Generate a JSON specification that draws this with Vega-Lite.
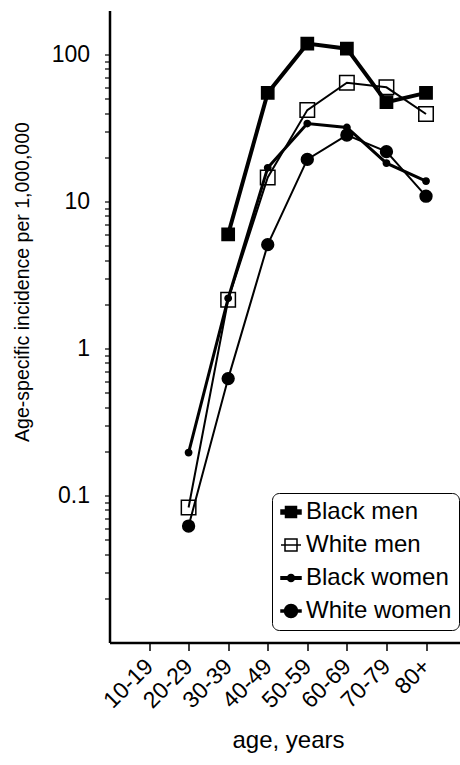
{
  "$schema": "https://vega.github.io/schema/vega-lite/v6.json",
  "autosize": {"type": "none"},
  "padding": {"left": 109.5, "top": 10.5, "right": 0, "bottom": 122},
  "width": 351,
  "height": 632,
  "background": "white",
  "config": {
    "view": {"stroke": null},
    "font": "Liberation Sans",
    "axis": {"domainColor": "black", "tickColor": "black", "labelColor": "black", "titleColor": "black", "grid": false, "titleFontWeight": "normal"}
  },
  "data": {
    "values": [
      {"age": "30-39", "series": "Black men", "rate": 6.0},
      {"age": "40-49", "series": "Black men", "rate": 55},
      {"age": "50-59", "series": "Black men", "rate": 119},
      {"age": "60-69", "series": "Black men", "rate": 110},
      {"age": "70-79", "series": "Black men", "rate": 47.5},
      {"age": "80+", "series": "Black men", "rate": 55},
      {"age": "20-29", "series": "White men", "rate": 0.083},
      {"age": "30-39", "series": "White men", "rate": 2.15},
      {"age": "40-49", "series": "White men", "rate": 14.6},
      {"age": "50-59", "series": "White men", "rate": 42},
      {"age": "60-69", "series": "White men", "rate": 64.5},
      {"age": "70-79", "series": "White men", "rate": 60},
      {"age": "80+", "series": "White men", "rate": 39.5},
      {"age": "20-29", "series": "Black women", "rate": 0.196},
      {"age": "30-39", "series": "Black women", "rate": 2.2},
      {"age": "40-49", "series": "Black women", "rate": 17},
      {"age": "50-59", "series": "Black women", "rate": 34},
      {"age": "60-69", "series": "Black women", "rate": 32},
      {"age": "70-79", "series": "Black women", "rate": 18.3},
      {"age": "80+", "series": "Black women", "rate": 13.8},
      {"age": "20-29", "series": "White women", "rate": 0.062},
      {"age": "30-39", "series": "White women", "rate": 0.625},
      {"age": "40-49", "series": "White women", "rate": 5.1},
      {"age": "50-59", "series": "White women", "rate": 19.4},
      {"age": "60-69", "series": "White women", "rate": 28.4},
      {"age": "70-79", "series": "White women", "rate": 21.9},
      {"age": "80+", "series": "White women", "rate": 10.9}
    ]
  },
  "encoding": {
    "x": {
      "field": "age", "type": "ordinal",
      "scale": {"type": "point", "domain": ["10-19", "20-29", "30-39", "40-49", "50-59", "60-69", "70-79", "80+"], "padding": 0.935, "align": 0.534},
      "axis": {
        "title": "age, years", "titleFontSize": 24, "titleX": 178.5, "titleY": 98, "titleBaseline": "middle", "titleAlign": "center",
        "labelAngle": -45, "labelFontSize": 23, "labelPadding": 12, "labelBaseline": "middle", "labelAlign": "right",
        "domainWidth": 2.5, "tickSize": 8, "tickWidth": 1.5
      }
    },
    "y": {
      "field": "rate", "type": "quantitative",
      "scale": {"type": "log", "domain": [0.01, 200], "nice": false, "zero": false},
      "axis": {
        "title": "Age-specific incidence per 1,000,000", "titleFontSize": 19.5, "titleX": -87, "titleY": 271, "titleAngle": -90, "titleBaseline": "middle", "titleAlign": "center",
        "values": [0.02, 0.03, 0.04, 0.05, 0.06, 0.07, 0.08, 0.09, 0.1, 0.2, 0.3, 0.4, 0.5, 0.6, 0.7, 0.8, 0.9, 1, 2, 3, 4, 5, 6, 7, 8, 9, 10, 20, 30, 40, 50, 60, 70, 80, 90, 100],
        "labelExpr": "datum.value == 0.1 || datum.value == 1 || datum.value == 10 || datum.value == 100 ? datum.label : ''",
        "format": "~g",
        "labelFontSize": 23, "labelPadding": 15,
        "domainWidth": 2.5, "tickSize": 5, "tickWidth": 1.2
      }
    }
  },
  "resolve": {"scale": {"shape": "independent", "fill": "independent", "size": "independent", "strokeWidth": "independent", "stroke": "independent"}},
  "layer": [
    {
      "mark": {"type": "line", "color": "black"},
      "encoding": {
        "strokeWidth": {
          "field": "series", "type": "ordinal",
          "scale": {"type": "ordinal", "domain": ["White women", "Black women", "White men", "Black men"], "range": [2, 3, 2, 4]},
          "legend": null
        }
      }
    },
    {
      "mark": {"type": "point", "filled": true, "stroke": "black", "strokeWidth": 1.5, "opacity": 1},
      "encoding": {
        "shape": {
          "field": "series", "type": "ordinal",
          "scale": {"domain": ["White women", "Black women", "White men", "Black men"], "range": ["circle", "circle", "square", "square"]},
          "legend": null
        },
        "size": {
          "field": "series", "type": "ordinal",
          "scale": {"type": "ordinal", "domain": ["White women", "Black women", "White men", "Black men"], "range": [140, 40, 210, 150]},
          "legend": null
        },
        "fill": {
          "field": "series", "type": "ordinal",
          "scale": {"domain": ["White women", "Black women", "White men", "Black men"], "range": ["black", "black", "transparent", "black"]},
          "legend": null
        }
      }
    },
    {
      "mark": {"type": "point", "filled": true, "strokeWidth": 1.5, "opacity": 0},
      "encoding": {
        "shape": {
          "field": "series", "type": "ordinal",
          "scale": {"domain": ["Black men", "White men", "Black women", "White women"], "range": [
            "M-1,-0.2H1V0.2H-1Z M-0.55,-0.55H0.55V0.55H-0.55Z",
            "M-1,0H1 M-0.6,-0.6H0.6V0.6H-0.6Z",
            "M-1,-0.12H1V0.12H-1Z M-0.35,0A0.35,0.35 0 1,1 0.35,0A0.35,0.35 0 1,1 -0.35,0Z",
            "M-1,-0.1H1V0.1H-1Z M-0.65,0A0.65,0.65 0 1,1 0.65,0A0.65,0.65 0 1,1 -0.65,0Z"
          ]},
          "legend": {
            "title": null, "orient": "none", "legendX": 162.5, "legendY": 482.5,
            "strokeColor": "black", "fillColor": "white", "cornerRadius": 7, "padding": 7,
            "labelFontSize": 24, "labelColor": "black", "labelOffset": 3, "rowPadding": 9,
            "symbolStrokeWidth": 1.5, "symbolSize": 400, "symbolOpacity": 1
          }
        },
        "fill": {
          "field": "series", "type": "ordinal",
          "scale": {"domain": ["Black men", "White men", "Black women", "White women"], "range": ["black", "transparent", "black", "black"]},
          "legend": {
            "title": null, "orient": "none", "legendX": 162.5, "legendY": 482.5,
            "strokeColor": "black", "fillColor": "white", "cornerRadius": 7, "padding": 7,
            "labelFontSize": 24, "labelColor": "black", "labelOffset": 3, "rowPadding": 9,
            "symbolStrokeWidth": 1.5, "symbolSize": 400, "symbolOpacity": 1
          }
        },
        "stroke": {
          "field": "series", "type": "ordinal",
          "scale": {"domain": ["Black men", "White men", "Black women", "White women"], "range": ["black", "black", "black", "black"]},
          "legend": {
            "title": null, "orient": "none", "legendX": 162.5, "legendY": 482.5,
            "strokeColor": "black", "fillColor": "white", "cornerRadius": 7, "padding": 7,
            "labelFontSize": 24, "labelColor": "black", "labelOffset": 3, "rowPadding": 9,
            "symbolStrokeWidth": 1.5, "symbolSize": 400, "symbolOpacity": 1
          }
        }
      }
    }
  ]
}
